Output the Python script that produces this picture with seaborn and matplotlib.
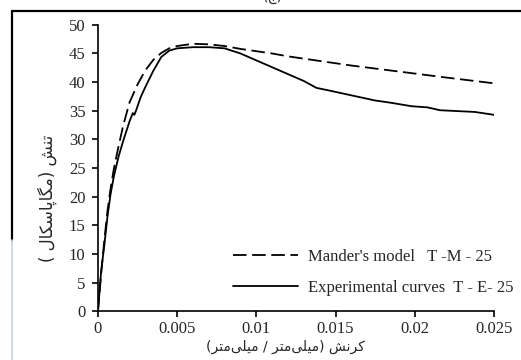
import matplotlib
matplotlib.use('Agg')
import matplotlib.pyplot as plt
from matplotlib.lines import Line2D
import seaborn as sns
import pandas as pd

# --- data ---
mander_strain = [0, 0.0002, 0.0004, 0.0006, 0.0008, 0.001, 0.0013, 0.0016, 0.002,
                 0.0025, 0.003, 0.0035, 0.004, 0.0045, 0.005, 0.006, 0.007, 0.008,
                 0.009, 0.01, 0.011, 0.012, 0.014, 0.016, 0.018, 0.02, 0.022, 0.025]
mander_stress = [0, 6.5, 12.3, 17.5, 21.5, 24.8, 28.8, 32.5, 36.5,
                 39.6, 42.1, 43.9, 45.1, 45.9, 46.3, 46.7, 46.6, 46.3,
                 45.8, 45.4, 45.0, 44.5, 43.7, 42.9, 42.2, 41.5, 40.8, 39.8]

exp_strain = [0, 0.0001, 0.0002, 0.0004, 0.0006, 0.0008, 0.001, 0.0013, 0.0016,
              0.002, 0.0022, 0.0023, 0.0024, 0.0027, 0.003, 0.0035, 0.004, 0.0045,
              0.005, 0.006, 0.007, 0.008, 0.009, 0.01, 0.011, 0.012, 0.013, 0.0138,
              0.0145, 0.016, 0.0175, 0.0185, 0.0198, 0.0208, 0.0216, 0.0238, 0.025]
exp_stress = [0, 3.5, 7.0, 11.5, 16.5, 20.5, 23.5, 27.0, 29.8,
              33.2, 34.6, 34.3, 35.0, 37.4, 39.2, 42.0, 44.4, 45.5,
              45.9, 46.1, 46.1, 45.9, 45.0, 43.8, 42.6, 41.4, 40.2, 39.0,
              38.6, 37.7, 36.8, 36.4, 35.8, 35.6, 35.1, 34.8, 34.3]

mander_label = "Mander's model   T -M - 25"
exp_label = "Experimental curves  T - E- 25"

x_ticks = [0, 0.005, 0.01, 0.015, 0.02, 0.025]
x_tick_labels = ['0', '0.005', '0.01', '0.015', '0.02', '0.025']
y_ticks = [0, 5, 10, 15, 20, 25, 30, 35, 40, 45, 50]

y_title = 'تنش (مگاپاسکال )'
x_title = 'کرنش (میلی\u200cمتر / میلی\u200cمتر)'
panel_title = '(ج)'

# isolated, final, initial, medial presentation forms
FORMS = {
    'ا': ('\uFE8D', '\uFE8E', None, None),
    'ر': ('\uFEAD', '\uFEAE', None, None),
    'ت': ('\uFE95', '\uFE96', '\uFE97', '\uFE98'),
    'ن': ('\uFEE5', '\uFEE6', '\uFEE7', '\uFEE8'),
    'ش': ('\uFEB5', '\uFEB6', '\uFEB7', '\uFEB8'),
    'م': ('\uFEE1', '\uFEE2', '\uFEE3', '\uFEE4'),
    'گ': ('\uFB92', '\uFB93', '\uFB94', '\uFB95'),
    'پ': ('\uFB56', '\uFB57', '\uFB58', '\uFB59'),
    'س': ('\uFEB1', '\uFEB2', '\uFEB3', '\uFEB4'),
    'ک': ('\uFB8E', '\uFB8F', '\uFB90', '\uFB91'),
    'ل': ('\uFEDD', '\uFEDE', '\uFEDF', '\uFEE0'),
    'ی': ('\uFBFC', '\uFBFD', '\uFBFE', '\uFBFF'),
    'ج': ('\uFE9D', '\uFE9E', '\uFE9F', '\uFEA0'),
}


def rtl(s):
    out = []
    for i, ch in enumerate(s):
        if ch not in FORMS:
            out.append(ch)
            continue
        prev = s[i - 1] if i > 0 else ''
        nxt = s[i + 1] if i + 1 < len(s) else ''
        jp = prev in FORMS and FORMS[prev][2] is not None
        jn = FORMS[ch][2] is not None and nxt in FORMS
        iso, fin, ini, med = FORMS[ch]
        out.append(med if (jp and jn) else fin if jp else ini if jn else iso)
    vis = ''.join(out).replace('\u200c', '')[::-1]
    return vis.translate(str.maketrans('()', ')('))


sns.set_style('ticks')
plt.rcParams['font.family'] = ['Liberation Serif', 'DejaVu Sans']

df_m = pd.DataFrame({'strain': mander_strain, 'stress': mander_stress})
df_e = pd.DataFrame({'strain': exp_strain, 'stress': exp_stress})

fig = plt.figure(figsize=(5.21, 3.6), dpi=100)
ax = fig.add_axes([0.188, 0.135, 0.760, 0.796])

sns.lineplot(data=df_m, x='strain', y='stress', ax=ax, color='black', lw=1.3,
             linestyle=(0, (7.5, 3.1)), label=mander_label, sort=False)
sns.lineplot(data=df_e, x='strain', y='stress', ax=ax, color='black', lw=1.3,
             label=exp_label, sort=False)

ax.set_xlim(0, 0.025)
ax.set_ylim(0, 50)
ax.set_xticks(x_ticks)
ax.set_xticklabels(x_tick_labels)
ax.set_yticks(y_ticks)
ax.tick_params(labelsize=12, length=4, width=1.2, color='black', pad=3)
ax.tick_params(axis='y', pad=5)
for s in ['left', 'bottom']:
    ax.spines[s].set_linewidth(1.2)
    ax.spines[s].set_color('black')
sns.despine(ax=ax)
ax.set_xlabel('')
ax.set_ylabel('')

ax.legend(loc='upper left', bbox_to_anchor=(0.447, 0.308),
          bbox_transform=fig.transFigure, frameon=False, fontsize=12,
          borderpad=0, borderaxespad=0, handlelength=3.9, handletextpad=0.6,
          labelspacing=0.9)

fig.text(47 / 521, 1 - 198 / 360, rtl(y_title), rotation=90, ha='center',
         va='center', fontsize=12, family=['DejaVu Sans'])
fig.text(285 / 521, 1 - 347 / 360, rtl(x_title), ha='center', va='center',
         fontsize=10, family=['DejaVu Sans'])
fig.text(273 / 521, 1 + 3 / 360, rtl(panel_title), ha='center', va='center',
         fontsize=10, family=['DejaVu Sans'])

# page frame around the chart
fig.add_artist(Line2D([12 / 521, 1], [1 - 10.5 / 360] * 2, color='black', lw=1.6,
                      transform=fig.transFigure))
fig.add_artist(Line2D([12 / 521] * 2, [1 - 10.5 / 360, 1 - 240 / 360],
                      color='black', lw=1.6, transform=fig.transFigure))
fig.add_artist(Line2D([12 / 521] * 2, [1 - 240 / 360, 0], color='#c3d0e3',
                      lw=1.2, transform=fig.transFigure))

fig.savefig('out.png', dpi=100)
